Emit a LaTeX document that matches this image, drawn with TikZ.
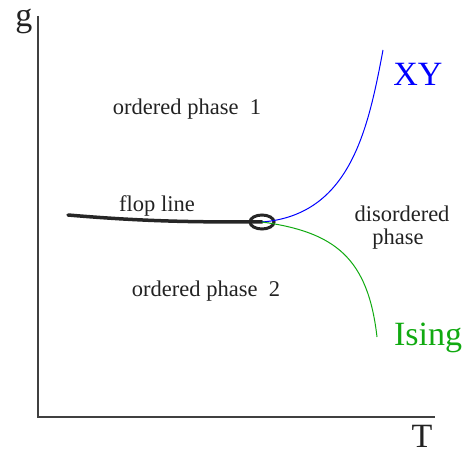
\documentclass[tikz,border=0pt]{standalone}
\usepackage{fontspec}
\setmainfont{Liberation Serif}
\usetikzlibrary{shapes.geometric}
\definecolor{txt}{HTML}{222222}
\definecolor{isingg}{HTML}{11AA11}
\begin{document}
\begin{tikzpicture}[x=1pt,y=-1pt,
  lbl/.style={anchor=base,inner sep=0pt,text=txt,font=\fontsize{22.5}{26}\selectfont},
  big/.style={anchor=base,inner sep=0pt,font=\fontsize{34}{38}\selectfont},
  axis/.style={line width=1.2pt,draw=black!75}]
\useasboundingbox (0,0) rectangle (471,454);
\coordinate (o) at (38,417);
\coordinate (ytop) at (38,16);
\coordinate (xend) at (435,417);
\draw[axis] (ytop) -- (o) -- (xend);
\node[big,text=txt] (g) at (24,27) {g};
\node[big,text=txt] (T) at (422,447) {T};
\coordinate (fs) at (68,215);
\node[draw=black!85,line width=3pt,ellipse,minimum width=24pt,minimum height=14pt,inner sep=0pt] (mc) at (262,222) {};
\coordinate (xyend) at (383,50);
\coordinate (isend) at (377,337);
\draw[line width=3.5pt,black!85,line cap=round] (fs) .. controls (150,222) and (200,222) .. (mc.center);
\draw[blue,line width=1pt] (mc.center) .. controls (350,215) and (368,130) .. (xyend);
\draw[isingg,line width=1pt] (mc.center) .. controls (335,232) and (368,258) .. (isend);
\node[big,text=blue] (xy) at (418,86) {XY};
\node[big,text=isingg] (ising) at (428,345) {Ising};
\node[lbl] (op1) at (187,115) {ordered phase\ \ 1};
\node[lbl] (flop) at (157,212) {flop line};
\node[lbl] (op2) at (206,297) {ordered phase\ \ 2};
\node[lbl] (dis) at (402,222) {disordered};
\node[lbl] (ph) at (398,245) {phase};
\end{tikzpicture}
\end{document}
